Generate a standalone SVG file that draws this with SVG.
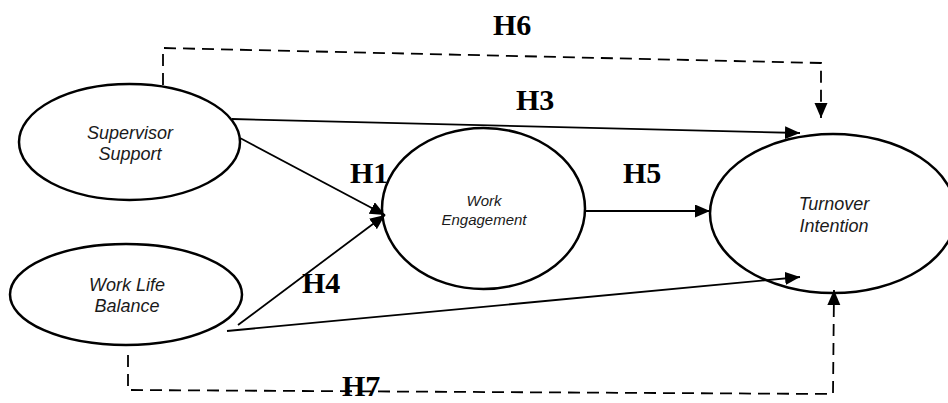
<svg xmlns="http://www.w3.org/2000/svg" width="948" height="403" viewBox="0 0 948 403">
<style>
.node{fill:#fff;stroke:#000;stroke-width:2.5}
.nt{font-family:"Liberation Sans",Arial,sans-serif;font-style:italic;font-size:18px;fill:#1a1a1a;text-anchor:middle}
.nts{font-size:15px}
.lbl{font-family:"Liberation Serif","Times New Roman",serif;font-weight:bold;font-size:30px;fill:#000}
.c{fill:none;stroke:#000;stroke-width:1.8}
.d{fill:none;stroke:#000;stroke-width:1.8;stroke-dasharray:12 7}
</style>
<defs>
<marker id="ah" markerUnits="userSpaceOnUse" markerWidth="16" markerHeight="14" refX="15" refY="6.5" orient="auto">
<path d="M0,0 L15,6.5 L0,13 z" fill="#000"/>
</marker>
</defs>
<rect width="948" height="403" fill="#fff"/>
<g id="supervisor-support">
<ellipse class="node" cx="129.5" cy="142" rx="110.5" ry="58"/>
<text class="nt" x="130" y="139">Supervisor</text>
<text class="nt" x="130" y="160">Support</text>
</g>
<g id="work-life-balance">
<ellipse class="node" cx="126" cy="294.5" rx="116" ry="50.5"/>
<text class="nt" x="127" y="291">Work Life</text>
<text class="nt" x="127" y="312">Balance</text>
</g>
<g id="work-engagement">
<ellipse class="node" cx="483.5" cy="208.5" rx="101.5" ry="80.5"/>
<text class="nt nts" x="484" y="206">Work</text>
<text class="nt nts" x="484" y="225">Engagement</text>
</g>
<g id="turnover-intention">
<ellipse class="node" cx="833" cy="213.5" rx="123" ry="79.5"/>
<text class="nt" x="834" y="210">Turnover</text>
<text class="nt" x="834" y="232">Intention</text>
</g>
<g id="connectors">
<polyline class="d" points="163,85 163,48 821,63 821,118" marker-end="url(#ah)"/>
<line class="c" x1="232" y1="119" x2="800" y2="133" marker-end="url(#ah)"/>
<line class="c" x1="240" y1="138" x2="385" y2="215" marker-end="url(#ah)"/>
<line class="c" x1="238" y1="325" x2="385" y2="215" marker-end="url(#ah)"/>
<line class="c" x1="227" y1="331" x2="800" y2="277" marker-end="url(#ah)"/>
<line class="c" x1="585" y1="211" x2="710" y2="211" marker-end="url(#ah)"/>
<polyline class="d" points="128,355 128,390 833,394 834,290" marker-end="url(#ah)"/>
</g>
<g id="labels">
<text class="lbl" x="493" y="35">H6</text>
<text class="lbl" x="516" y="110">H3</text>
<text class="lbl" x="350" y="183">H1</text>
<text class="lbl" x="623" y="183">H5</text>
<text class="lbl" x="302" y="293">H4</text>
<text class="lbl" x="342" y="396">H7</text>
</g>
</svg>
